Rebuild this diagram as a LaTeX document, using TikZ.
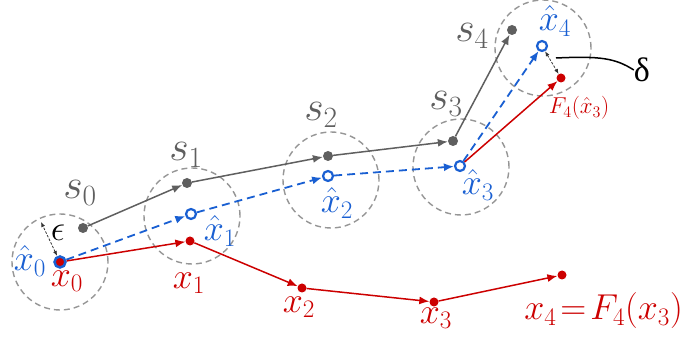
\RequirePackage{fix-cm}
\documentclass[tikz,border=0pt]{standalone}
\usepackage{fontspec}
\newfontfamily\grkfont{Liberation Serif}
\usetikzlibrary{arrows.meta}
\definecolor{cgray}{RGB}{95,95,95}
\definecolor{cball}{RGB}{150,150,150}
\definecolor{cred}{RGB}{204,0,0}
\definecolor{cblue}{RGB}{25,95,210}
\begin{document}
\begin{tikzpicture}[x=1pt,y=-1pt,
  gdot/.style={circle,fill=cgray,inner sep=0pt,minimum size=10pt},
  rdot/.style={circle,fill=cred,inner sep=0pt,minimum size=9pt},
  bdot/.style={circle,draw=cblue,line width=2.2pt,fill=white,inner sep=0pt,minimum size=10pt},
  ball/.style={draw=cball,dash pattern=on 6pt off 4pt,line width=1.4pt},
  tip/.style={-{Latex[length=10pt,width=8pt]}},
  garr/.style={draw=cgray,line width=1.5pt,tip},
  barr/.style={draw=cblue,line width=1.8pt,dash pattern=on 8pt off 5pt,tip},
  rarr/.style={draw=cred,line width=1.5pt,tip},
  darr/.style={draw=black!80,line width=0.8pt,dash pattern=on 2.5pt off 1.5pt,{Latex[length=5pt,width=4pt]}-{Latex[length=5pt,width=4pt]}},
  big/.style={font=\fontsize{42}{48}\selectfont,inner sep=0pt},
  mid/.style={font=\fontsize{36}{42}\selectfont,inner sep=0pt},
  small/.style={font=\fontsize{23}{27}\selectfont,inner sep=0pt},
]
\useasboundingbox (0,0) rectangle (683,344);
% balls
\draw[ball] (60,262) circle[radius=48pt];
\draw[ball] (192,216) circle[radius=48pt];
\draw[ball] (331,180) circle[radius=48pt];
\draw[ball] (461,167) circle[radius=48pt];
\draw[ball] (543,48) circle[radius=48pt];
% points
\node[gdot] (s0) at (83,228) {};
\node[gdot] (s1) at (187,183) {};
\node[gdot] (s2) at (328,156) {};
\node[gdot] (s3) at (453,141) {};
\node[gdot] (s4) at (512,30) {};
\node[bdot] (h1) at (191,214) {};
\node[bdot] (h2) at (328,176) {};
\node[bdot] (h3) at (460,166) {};
\node[bdot] (h4) at (542,46) {};
\node[rdot] (x1) at (190,241) {};
\node[rdot] (x2) at (302,288) {};
\node[rdot] (x3) at (434,302) {};
\node[rdot] (x4) at (562,275) {};
\node[rdot] (f4) at (561,78) {};
\node[circle,draw=cblue,line width=2.5pt,fill=cred,inner sep=0pt,minimum size=11pt] (x0) at (60,262) {};
% connectors
\draw[garr] (s0) -- (s1);
\draw[garr] (s1) -- (s2);
\draw[garr] (s2) -- (s3);
\draw[garr] (s3) -- (s4);
\draw[barr] (x0) -- (h1);
\draw[barr] (h1) -- (h2);
\draw[barr] (h2) -- (h3);
\draw[barr] (h3) -- (h4);
\draw[rarr] (x0) -- (x1);
\draw[rarr] (x1) -- (x2);
\draw[rarr] (x2) -- (x3);
\draw[rarr] (x3) -- (x4);
\draw[rarr] (h3) -- (f4);
% epsilon
\coordinate (epsE) at (41,222);
\draw[darr] (x0) -- (epsE);
\node[mid] (leps) at (58,233) {$\epsilon$};
% delta
\draw[darr] (h4) -- (f4);
\coordinate (dm) at (556,58);
\node[inner sep=0pt,font=\fontsize{34}{40}\selectfont\grkfont] (ldelta) at (642,70) {δ};
\draw[black,line width=1.5pt] (dm) .. controls (600,56) and (615,58) .. (ldelta.west);
% labels
\node[big,text=cgray] (ls0) at (80,193) {$s_0$};
\node[big,text=cgray] (ls1) at (186,155) {$s_1$};
\node[big,text=cgray] (ls2) at (321,115) {$s_2$};
\node[big,text=cgray] (ls3) at (446,104) {$s_3$};
\node[big,text=cgray] (ls4) at (472,36) {$s_4$};
\node[mid,text=cblue] (lh0) at (30,261) {$\hat{x}_0$};
\node[mid,text=cblue] (lh1) at (220,231) {$\hat{x}_1$};
\node[mid,text=cblue] (lh2) at (337,203) {$\hat{x}_2$};
\node[mid,text=cblue] (lh3) at (478,185) {$\hat{x}_3$};
\node[mid,text=cblue] (lh4) at (555,21) {$\hat{x}_4$};
\node[mid,text=cred] (lx0) at (67,281) {$x_0$};
\node[mid,text=cred] (lx1) at (189,283) {$x_1$};
\node[mid,text=cred] (lx2) at (299,307) {$x_2$};
\node[mid,text=cred] (lx3) at (436,318) {$x_3$};
\node[mid,text=cred,anchor=east] (lx4) at (683,311) {$\thickmuskip=2mu x_4 = F_4(x_3)$};
\node[small,text=cred] (lf4) at (579,108) {$F_4(\hat{x}_3)$};
\end{tikzpicture}
\end{document}
